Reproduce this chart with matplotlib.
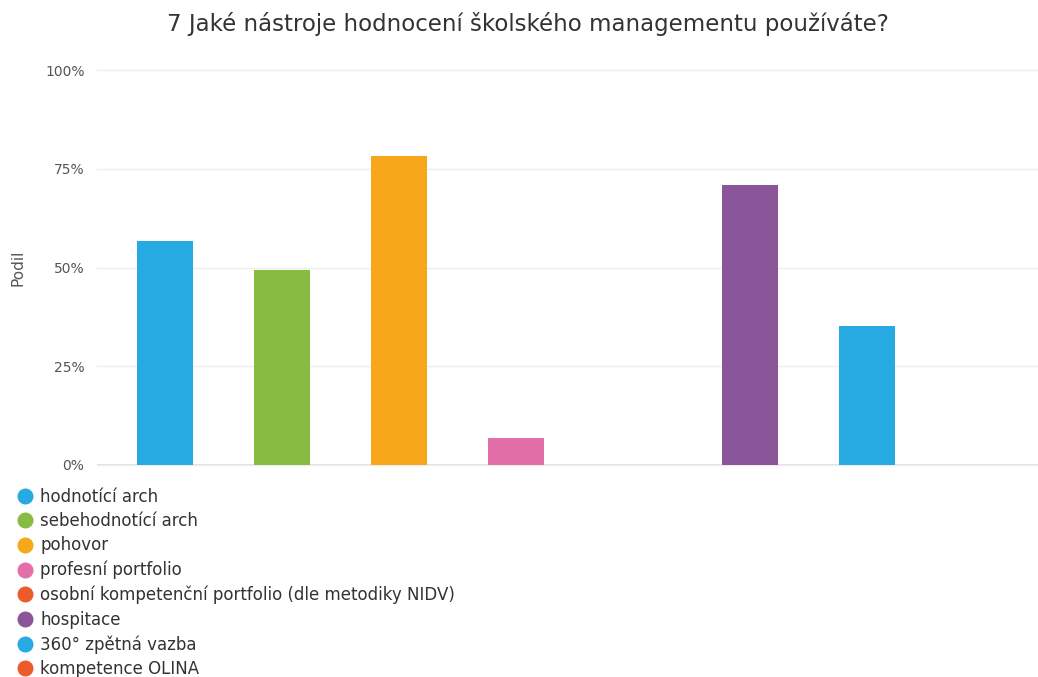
import matplotlib.pyplot as plt
from matplotlib.lines import Line2D
from matplotlib.ticker import FuncFormatter

# data
categories = [
    "hodnotící arch",
    "sebehodnotící arch",
    "pohovor",
    "profesní portfolio",
    "osobní kompetenční portfolio (dle metodiky NIDV)",
    "hospitace",
    "360° zpětná vazba",
    "kompetence OLINA",
]
shares = [56.6, 49.4, 78.3, 6.8, 0.0, 71.0, 35.3, 0.0]
colors = ["#27a9e1", "#86bc42", "#f6a81a", "#e36fa8",
          "#ec5b2a", "#8a5699", "#27a9e1", "#ec5b2a"]
yticks = [0, 25, 50, 75, 100]

plt.rcParams['font.family'] = ['DejaVu Sans']

fig = plt.figure(figsize=(10.38, 6.77), dpi=100)
ax = fig.add_axes([0.0934, 1 - 465 / 677, 1 - 0.0934, (465 - 70) / 677])

x = list(range(len(categories)))
ax.bar(x, shares, width=0.48, color=colors, zorder=3)

ax.set_xlim(-0.58, 7.46)
ax.set_ylim(0, 100)
ax.set_yticks(yticks)
ax.yaxis.set_major_formatter(FuncFormatter(lambda v, p: "%d%%" % v))
ax.set_xticks([])
ax.tick_params(axis='y', length=0, pad=9, labelsize=10, labelcolor='#555555')
ax.grid(axis='y', color='#eeeeee', linewidth=1, zorder=0)
ax.axhline(0, color='#dddddd', linewidth=1.2, zorder=2)
for s in ax.spines.values():
    s.set_visible(False)
for gl in ax.get_ygridlines():
    gl.set_clip_on(False)

ax.set_ylabel("Podil", fontsize=11, color='#555555', labelpad=14)

fig.suptitle("7 Jaké nástroje hodnocení školského managementu používáte?",
             x=0.509, y=0.982, fontsize=16.5, color='#333333')

handles = [Line2D([], [], marker='o', linestyle='', markersize=10.5,
                  markerfacecolor=c, markeredgecolor=c) for c in colors]
fig.legend(handles, categories, loc='upper left', bbox_to_anchor=(0.006, 0.292),
           frameon=False, fontsize=12, labelspacing=0.385, handletextpad=0.34,
           handlelength=1.2, borderpad=0, labelcolor='#333333')

fig.savefig("out.png", dpi=100)
